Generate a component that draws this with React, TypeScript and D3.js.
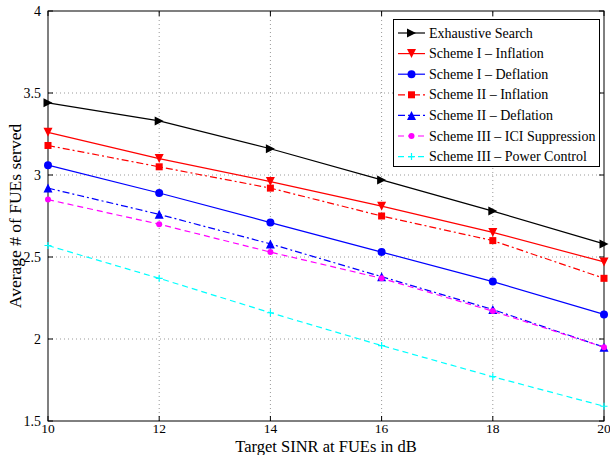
import React, { useEffect, useRef } from 'react';
import * as d3 from 'd3';

// SINR targets (dB)
const sinr = [10, 12, 14, 16, 18, 20];

const exhaustive = [3.44, 3.33, 3.16, 2.97, 2.78, 2.58];
const s1Inflation = [3.26, 3.10, 2.96, 2.81, 2.65, 2.47];
const s1Deflation = [3.06, 2.89, 2.71, 2.53, 2.35, 2.15];
const s2Inflation = [3.18, 3.05, 2.92, 2.75, 2.60, 2.37];
const s2Deflation = [2.92, 2.76, 2.58, 2.38, 2.18, 1.95];
const s3Ici = [2.85, 2.70, 2.53, 2.37, 2.17, 1.95];
const s3Power = [2.57, 2.37, 2.16, 1.96, 1.77, 1.59];

const seriesNames = [
  'Exhaustive Search',
  'Scheme I \u2013 Inflation',
  'Scheme I \u2013 Deflation',
  'Scheme II \u2013 Inflation',
  'Scheme II \u2013 Deflation',
  'Scheme III \u2013 ICI Suppression',
  'Scheme III \u2013 Power Control',
];
const seriesValues = [exhaustive, s1Inflation, s1Deflation, s2Inflation, s2Deflation, s3Ici, s3Power];
const seriesColors = ['#000000', '#ff0000', '#0000ff', '#ff0000', '#0000ff', '#ff00ff', '#00ffff'];
const seriesDash = ['none', 'none', 'none', '7,3,2,3', '7,3,2,3', '6,4', '6,4'];
const seriesMarker = ['right', 'down', 'circle', 'square', 'up', 'dot', 'plus'];

const xTicks = [10, 12, 14, 16, 18, 20];
const yTicks = [1.5, 2, 2.5, 3, 3.5, 4];

const FONT = '"Liberation Serif", "Times New Roman", serif';

const App = () => {
  const svgRef = useRef<SVGSVGElement>(null);

  useEffect(() => {
    const width = 610;
    const height = 455;
    const margin = { top: 11, right: 6, bottom: 34, left: 48 };

    d3.select(svgRef.current).selectAll('*').remove();
    const svg = d3.select(svgRef.current)
      .attr('width', width)
      .attr('height', height)
      .style('font-family', FONT);

    const x = d3.scaleLinear().domain([10, 20]).range([margin.left, width - margin.right]);
    const y = d3.scaleLinear().domain([1.5, 4]).range([height - margin.bottom, margin.top]);
    const x0 = x(10), x1 = x(20), y0 = y(1.5), y1 = y(4);

    svg.append('rect').attr('width', width).attr('height', height).attr('fill', '#fff');

    // grid
    const grid = svg.append('g').attr('stroke', '#999').attr('stroke-dasharray', '1,3').attr('stroke-width', 1);
    xTicks.slice(1, -1).forEach(t => {
      grid.append('line').attr('x1', x(t)).attr('x2', x(t)).attr('y1', y0).attr('y2', y1);
    });
    yTicks.slice(1, -1).forEach(t => {
      grid.append('line').attr('x1', x0).attr('x2', x1).attr('y1', y(t)).attr('y2', y(t));
    });

    // ticks (inward, all four sides)
    const tk = svg.append('g').attr('stroke', '#000').attr('stroke-width', 1);
    xTicks.forEach(t => {
      tk.append('line').attr('x1', x(t)).attr('x2', x(t)).attr('y1', y0).attr('y2', y0 - 5);
      tk.append('line').attr('x1', x(t)).attr('x2', x(t)).attr('y1', y1).attr('y2', y1 + 5);
    });
    yTicks.forEach(t => {
      tk.append('line').attr('x1', x0).attr('x2', x0 + 5).attr('y1', y(t)).attr('y2', y(t));
      tk.append('line').attr('x1', x1).attr('x2', x1 - 5).attr('y1', y(t)).attr('y2', y(t));
    });

    svg.append('rect')
      .attr('x', x0).attr('y', y1).attr('width', x1 - x0).attr('height', y0 - y1)
      .attr('fill', 'none').attr('stroke', '#000').attr('stroke-width', 1);

    // tick labels
    svg.append('g').selectAll('text').data(xTicks).enter().append('text')
      .attr('x', d => x(d)).attr('y', y0 + 12)
      .attr('text-anchor', 'middle').attr('font-size', 13.5)
      .text(d => String(d));
    svg.append('g').selectAll('text').data(yTicks).enter().append('text')
      .attr('x', x0 - 7).attr('y', d => y(d) + 5)
      .attr('text-anchor', 'end').attr('font-size', 14)
      .text(d => String(d));

    // axis labels
    svg.append('text')
      .attr('x', (x0 + x1) / 2).attr('y', height - 3.5)
      .attr('text-anchor', 'middle').attr('font-size', 16.5)
      .text('Target SINR at FUEs in dB');
    svg.append('text')
      .attr('transform', 'rotate(-90)')
      .attr('x', -(y0 + y1) / 2).attr('y', 21)
      .attr('text-anchor', 'middle').attr('font-size', 17.5)
      .text('Average # of FUEs served');

    const drawMarker = (g: any, kind: string, cx: number, cy: number, color: string) => {
      const s = 4.5;
      if (kind === 'right') {
        g.append('path').attr('d', `M${cx - s},${cy - s}L${cx + s},${cy}L${cx - s},${cy + s}Z`).attr('fill', color);
      } else if (kind === 'down') {
        g.append('path').attr('d', `M${cx - s},${cy - s}L${cx + s},${cy - s}L${cx},${cy + s}Z`).attr('fill', color);
      } else if (kind === 'up') {
        g.append('path').attr('d', `M${cx - s},${cy + s}L${cx + s},${cy + s}L${cx},${cy - s}Z`).attr('fill', color);
      } else if (kind === 'circle') {
        g.append('circle').attr('cx', cx).attr('cy', cy).attr('r', 4).attr('fill', color);
      } else if (kind === 'square') {
        g.append('rect').attr('x', cx - 3.5).attr('y', cy - 3.5).attr('width', 7).attr('height', 7).attr('fill', color);
      } else if (kind === 'dot') {
        g.append('circle').attr('cx', cx).attr('cy', cy).attr('r', 3).attr('fill', color);
      } else if (kind === 'plus') {
        g.append('path').attr('d', `M${cx - 3.5},${cy}H${cx + 3.5}M${cx},${cy - 3.5}V${cy + 3.5}`)
          .attr('stroke', color).attr('stroke-width', 1.2);
      }
    };

    const line = d3.line<number>().x((_, i) => x(sinr[i])).y(d => y(d));

    seriesValues.forEach((vals, k) => {
      const g = svg.append('g');
      g.append('path')
        .attr('d', line(vals))
        .attr('fill', 'none')
        .attr('stroke', seriesColors[k])
        .attr('stroke-width', 1.2)
        .attr('stroke-dasharray', seriesDash[k]);
      vals.forEach((v, i) => drawMarker(g, seriesMarker[k], x(sinr[i]), y(v), seriesColors[k]));
    });

    // legend
    const lg = svg.append('g');
    lg.append('rect').attr('x', 393.5).attr('y', 19.5).attr('width', 206).attr('height', 147)
      .attr('fill', '#fff').attr('stroke', '#000').attr('stroke-width', 1);
    seriesNames.forEach((name, k) => {
      const ly = 33 + k * 20.6;
      lg.append('line').attr('x1', 398).attr('x2', 425).attr('y1', ly).attr('y2', ly)
        .attr('stroke', seriesColors[k]).attr('stroke-width', 1.2).attr('stroke-dasharray', seriesDash[k]);
      drawMarker(lg, seriesMarker[k], 411.5, ly, seriesColors[k]);
      lg.append('text').attr('x', 429).attr('y', ly + 4.5).attr('font-size', 14).text(name);
    });
  }, []);

  return <svg ref={svgRef} style={{ position: 'absolute', left: 0, top: 0 }}></svg>;
};

export default App;
